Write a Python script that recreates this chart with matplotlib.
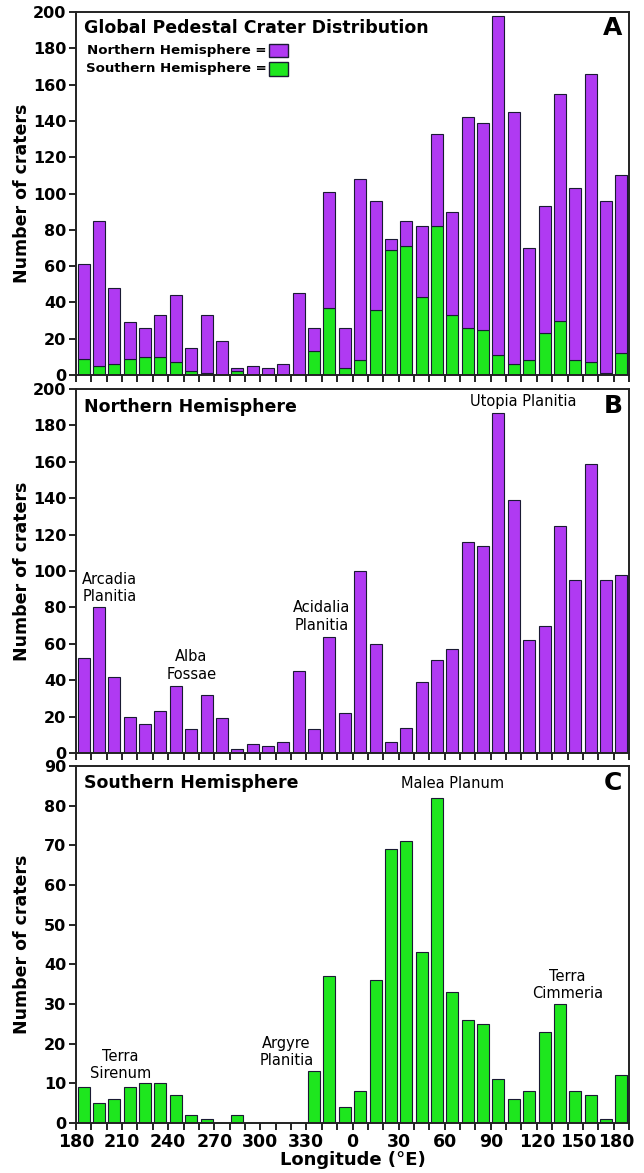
import numpy as np
import matplotlib
matplotlib.use("Agg")
import matplotlib.pyplot as plt
from matplotlib.patches import Rectangle
from matplotlib.transforms import ScaledTranslation

plt.rcParams['font.family'] = ['DejaVu Sans']

# ---- data (10-degree longitude bins from 180E eastward to 180E) ----
north = [52, 80, 42, 20, 16, 23, 37, 13, 32, 19, 2, 5, 4, 6, 45, 13, 64, 22,
         100, 60, 6, 14, 39, 51, 57, 116, 114, 187, 139, 62, 70, 125, 95, 159, 95, 98]
south = [9, 5, 6, 9, 10, 10, 7, 2, 1, 0, 2, 0, 0, 0, 0, 13, 37, 4,
         8, 36, 69, 71, 43, 82, 33, 26, 25, 11, 6, 8, 23, 30, 8, 7, 1, 12]
xtick_labels = ['180', '210', '240', '270', '300', '330', '0', '30', '60',
                '90', '120', '150', '180']

north_ann = [("Arcadia\nPlanitia", 2.2, 90.5), ("Alba\nFossae", 7.5, 48),
             ("Acidalia\nPlanitia", 16.0, 75), ("Utopia Planitia", 29.1, 193)]
south_ann = [("Terra\nSirenum", 2.9, 14.6), ("Argyre\nPlanitia", 13.7, 17.9),
             ("Malea Planum", 24.5, 85.5), ("Terra\nCimmeria", 32.0, 34.8)]

PURPLE = '#B03AF2'
GREEN = '#1EE61E'
EDGE = '#1a1a33'

nb = len(north)
xc = np.arange(nb) + 0.5
north = np.array(north)
south = np.array(south)

W, H = 644, 1173
fig = plt.figure(figsize=(W / 100, H / 100), dpi=100)

left = 76 / W
width = (629 - 76) / W

def make_ax(top_px, bot_px):
    return fig.add_axes([left, 1 - bot_px / H, width, (bot_px - top_px) / H])

axA = make_ax(12, 375)
axB = make_ax(389, 753)
axC = make_ax(766, 1123)

bw = 0.78
# Panel A: stacked
axA.bar(xc, south, width=bw, color=GREEN, edgecolor=EDGE, linewidth=0.8)
axA.bar(xc, north, width=bw, bottom=south, color=PURPLE, edgecolor=EDGE, linewidth=0.8)
# Panel B
axB.bar(xc, north, width=bw, color=PURPLE, edgecolor=EDGE, linewidth=0.8)
# Panel C
axC.bar(xc, south, width=bw, color=GREEN, edgecolor=EDGE, linewidth=0.8)

for ax, ymax, ystep in [(axA, 200, 20), (axB, 200, 20), (axC, 90, 10)]:
    ax.set_xlim(0, nb)
    ax.set_ylim(0, ymax)
    ax.set_yticks(np.arange(0, ymax + 1, ystep))
    ax.set_xticks(np.arange(0, nb + 1, 1))
    ax.tick_params(axis='y', direction='out', length=5, width=1.2, labelsize=11.5, pad=2)
    ax.tick_params(axis='x', direction='out', length=5, width=1.2, labelsize=12.5, pad=2)
    for lab in ax.get_yticklabels():
        lab.set_fontweight('bold')
    for sp in ax.spines.values():
        sp.set_linewidth(1.4)
        sp.set_color('#222222')
    ax.set_ylabel('Number of craters', fontsize=12.5, fontweight='bold')
    ax.yaxis.set_label_coords(-0.081, 0.5)

axA.set_xticklabels([])
axB.set_xticklabels([])
labels_full = [''] * (nb + 1)
for i, lab in enumerate(xtick_labels):
    labels_full[i * 3] = lab
axC.set_xticklabels(labels_full)
xl = axC.get_xticklabels()
for lab in xl:
    lab.set_fontweight('bold')
xl[nb].set_transform(xl[nb].get_transform() + ScaledTranslation(-0.13, 0, fig.dpi_scale_trans))
xl[nb - 3].set_transform(xl[nb - 3].get_transform() + ScaledTranslation(-0.05, 0, fig.dpi_scale_trans))
axC.set_xlabel('Longitude (\u00b0E)', fontsize=13, fontweight='bold', labelpad=0)

# Titles and panel letters
axA.text(0.015, 0.955, 'Global Pedestal Crater Distribution', transform=axA.transAxes,
         fontsize=12.5, fontweight='bold', va='center', ha='left')
axB.text(0.015, 0.951, 'Northern Hemisphere', transform=axB.transAxes,
         fontsize=12.5, fontweight='bold', va='center', ha='left')
axC.text(0.015, 0.952, 'Southern Hemisphere', transform=axC.transAxes,
         fontsize=12.5, fontweight='bold', va='center', ha='left')
for ax, letter, yy in [(axA, 'A', 0.956), (axB, 'B', 0.953), (axC, 'C', 0.953)]:
    ax.text(0.971, yy, letter, transform=ax.transAxes, fontsize=18, fontweight='bold',
            va='center', ha='center')

# Legend in panel A
for yy, txt, col in [(0.895, 'Northern Hemisphere =', PURPLE), (0.843, 'Southern Hemisphere =', GREEN)]:
    axA.text(0.345, yy, txt, transform=axA.transAxes, fontsize=9.6, fontweight='bold',
             va='center', ha='right')
    axA.add_patch(Rectangle((0.349, yy - 0.018), 0.035, 0.036, transform=axA.transAxes,
                            facecolor=col, edgecolor=EDGE, linewidth=1.0))

# Region annotations
for txt, x, y in north_ann:
    axB.text(x, y, txt, fontsize=10.5, ha='center', va='center', linespacing=1.2)
for txt, x, y in south_ann:
    axC.text(x, y, txt, fontsize=10.5, ha='center', va='center', linespacing=1.2)

fig.savefig('out.png', dpi=100)
